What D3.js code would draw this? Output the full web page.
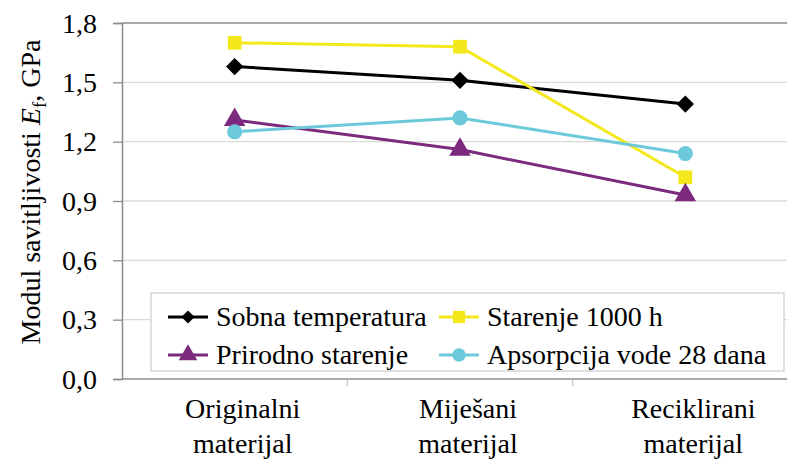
<!DOCTYPE html>
<html><head><meta charset="utf-8">
<script src="https://cdn.jsdelivr.net/npm/d3@7/dist/d3.min.js"></script>
</head>
<body style="margin:0"><svg id="c" width="787" height="460" font-family="Liberation Serif"></svg>
<script>
const categories = [["Originalni","materijal"],["Miješani","materijal"],["Reciklirani","materijal"]];
const seriesNames = ["Sobna temperatura","Starenje 1000 h","Prirodno starenje","Apsorpcija vode 28 dana"];
const sobna = [1.58, 1.51, 1.39];
const starenje = [1.70, 1.68, 1.02];
const prirodno = [1.31, 1.16, 0.93];
const apsorpcija = [1.25, 1.32, 1.14];
const yTicks = [0, 0.3, 0.6, 0.9, 1.2, 1.5, 1.8];
const yTickLabels = ["0,0","0,3","0,6","0,9","1,2","1,5","1,8"];

const FONT = "Liberation Serif";
const FS = 28;
const colors = ["#000000", "#f4e81c", "#7b2a7e", "#6cc9da"];
const shapes = [d3.symbolDiamond2, d3.symbolSquare, d3.symbolTriangle, d3.symbolCircle];
const seriesVals = [sobna, starenje, prirodno, apsorpcija];

const svg = d3.select("#c");
const L = 122, R = 798, T = 23, B = 379;
const x = d3.scaleBand().domain(d3.range(categories.length)).range([L, R]);
const y = d3.scaleLinear().domain([0, 1.8]).range([B, T]);

// gridlines
svg.append("g").selectAll("line").data(yTicks.slice(1, -1)).join("line")
  .attr("x1", L).attr("x2", 787).attr("y1", d => y(d)).attr("y2", d => y(d))
  .attr("stroke", "#d9d9d9").attr("stroke-width", 1.3);
// top border
svg.append("line").attr("x1", L).attr("x2", 787).attr("y1", T).attr("y2", T)
  .attr("stroke", "#8c8c8c").attr("stroke-width", 1.5);

// y axis
const yAxis = d3.axisLeft(y).tickValues(yTicks).tickFormat((d, i) => yTickLabels[i]).tickSize(9).tickPadding(16);
const gy = svg.append("g").attr("transform", `translate(${L},0)`).call(yAxis)
  .attr("font-family", FONT).attr("font-size", FS);
gy.select(".domain").attr("stroke", "#8c8c8c").attr("stroke-width", 1.5);
gy.selectAll(".tick line").attr("stroke", "#8c8c8c").attr("stroke-width", 1.3);
gy.selectAll(".tick text").attr("font-family", FONT).attr("font-size", FS).attr("fill", "#000").attr("dy", "0.33em");

// x axis line
svg.append("line").attr("x1", L).attr("x2", 787).attr("y1", B).attr("y2", B)
  .attr("stroke", "#8c8c8c").attr("stroke-width", 1.5);
// x boundary ticks
svg.append("g").selectAll("line").data(d3.range(1, categories.length)).join("line")
  .attr("x1", d => x(d)).attr("x2", d => x(d)).attr("y1", B).attr("y2", B + 7)
  .attr("stroke", "#c8c8c8").attr("stroke-width", 1.3);
// category labels (two lines each)
const labelRows = [0, 1];
labelRows.forEach(r => {
  svg.append("g").selectAll("text").data(categories).join("text")
    .attr("x", (d, i) => x(i) + x.bandwidth() / 2 + 8).attr("y", 418 + r * 35)
    .attr("text-anchor", "middle").attr("font-family", FONT).attr("font-size", FS)
    .text(d => d[r]);
});

// y label
const yl = svg.append("text").attr("transform", "translate(40,192) rotate(-90)")
  .attr("text-anchor", "middle").attr("font-family", FONT).attr("font-size", FS);
yl.append("tspan").text("Modul savitljivosti ");
yl.append("tspan").attr("font-style", "italic").text("E");
yl.append("tspan").attr("font-size", 19).attr("dy", 6).text("f");
yl.append("tspan").attr("dy", -6).text(", GPa");

// series
const cx = i => x(i) + x.bandwidth() / 2;
const line = d3.line().x((d, i) => cx(i)).y(d => y(d));
seriesVals.forEach((vals, s) => {
  const g = svg.append("g");
  g.append("path").attr("d", line(vals)).attr("fill", "none")
    .attr("stroke", colors[s]).attr("stroke-width", 3);
  const size = [190, 190, 200, 180][s];
  g.selectAll("path.m").data(vals).join("path").attr("class", "m")
    .attr("transform", (d, i) => `translate(${cx(i)},${y(d)})`)
    .attr("d", d3.symbol(shapes[s], size)).attr("fill", colors[s]);
});

// legend
const lg = svg.append("g");
lg.append("rect").attr("x", 151).attr("y", 293).attr("width", 633).attr("height", 78)
  .attr("fill", "#fff").attr("stroke", "#d0d0d0").attr("stroke-width", 1.3);
const legPos = [[168, 317], [439, 317], [168, 355], [439, 355]];
seriesNames.forEach((name, s) => {
  const [lx, ly] = legPos[s];
  lg.append("line").attr("x1", lx).attr("x2", lx + 40).attr("y1", ly).attr("y2", ly)
    .attr("stroke", colors[s]).attr("stroke-width", 3);
  lg.append("path").attr("transform", `translate(${lx + 20},${ly})`)
    .attr("d", d3.symbol(shapes[s], [110, 150, 150, 140][s])).attr("fill", colors[s]);
  lg.append("text").attr("x", lx + 48).attr("y", ly + 9)
    .attr("font-family", FONT).attr("font-size", FS).attr("fill", "#000").text(name);
});
</script></body></html>
